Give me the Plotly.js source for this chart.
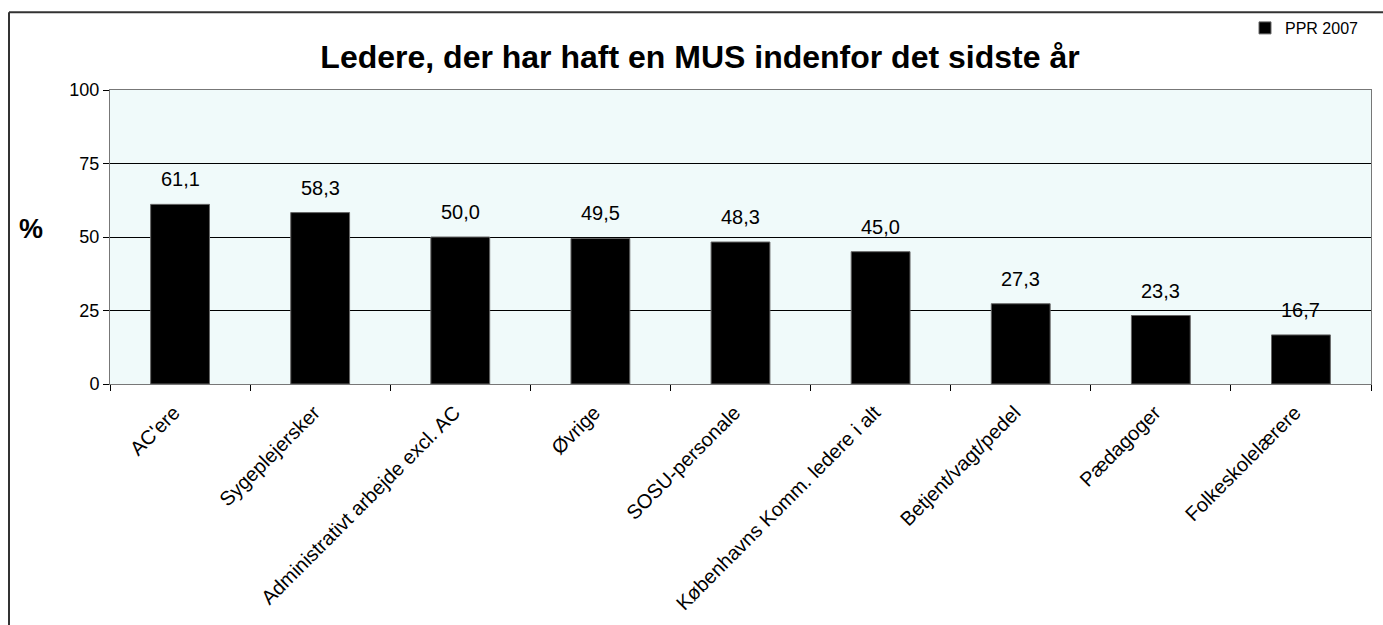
<!DOCTYPE html>
<html><head><meta charset="utf-8">
<script src="https://cdn.plot.ly/plotly-3.0.1.min.js"></script>
<style>html,body{margin:0;padding:0;background:#fff}#chart{width:1383px;height:625px}</style>
</head><body><div id="chart"></div>
<script>
const categories = ["AC'ere","Sygeplejersker","Administrativt arbejde excl. AC","Øvrige","SOSU-personale","Københavns Komm. ledere i alt","Betjent/vagt/pedel","Pædagoger","Folkeskolelærere"];
const values = [61.1, 58.3, 50.0, 49.5, 48.3, 45.0, 27.3, 23.3, 16.7];
const labels = ["61,1","58,3","50,0","49,5","48,3","45,0","27,3","23,3","16,7"];
const seriesName = "PPR 2007";
const yTicks = [0, 25, 50, 75, 100];

const FONT = "Liberation Sans, Arial, sans-serif";
const ML = 110, MR = 12, MT = 89, MB = 241, W = 1383, H = 625;
const PW = W - ML - MR, PH = H - MT - MB;
const px = x => (x - ML) / PW;
const py = y => (H - MB - y) / PH;

const trace = {
  type: 'bar', x: categories, y: values, name: seriesName,
  marker: {color: '#000000', line: {color: '#666666', width: 1}},
  hoverinfo: 'x+y'
};

const annotations = categories.map((c, i) => ({
  x: c, y: values[i], xref: 'x', yref: 'y', text: labels[i], showarrow: false,
  yanchor: 'middle', yshift: 25, font: {family: FONT, size: 20, color: '#000'}
}));
annotations.push({
  xref: 'paper', yref: 'paper', x: px(31), y: py(228), text: '<b>%</b>',
  showarrow: false, xanchor: 'center', yanchor: 'middle',
  font: {family: FONT, size: 27, color: '#000'}
});

const layout = {
  width: W, height: H,
  margin: {l: ML, r: MR, t: MT, b: MB, pad: 0},
  paper_bgcolor: '#ffffff', plot_bgcolor: '#f0fafa',
  font: {family: FONT, color: '#000'},
  title: {text: '<b>Ledere, der har haft en MUS indenfor det sidste år</b>',
          x: 700 / W, xref: 'container', xanchor: 'center',
          y: 1 - 57 / H, yref: 'container', yanchor: 'middle',
          font: {family: FONT, size: 32, color: '#000'}},
  bargap: 0.58,
  showlegend: true,
  legend: {x: px(1245), y: py(28), xanchor: 'left', yanchor: 'middle',
           font: {family: FONT, size: 16, color: '#000'}, bgcolor: 'rgba(0,0,0,0)',
           itemwidth: 30},
  xaxis: {type: 'category', tickson: 'boundaries', ticks: 'outside', ticklen: 6,
          tickcolor: '#000', tickangle: -45, showline: true, linecolor: '#777777',
          linewidth: 1, mirror: true, showgrid: false, zeroline: false,
          ticklabelstandoff: 8, ticklabelshift: -6,
          tickfont: {family: FONT, size: 20, color: '#000'}},
  yaxis: {range: [0, 100], tickvals: yTicks, ticktext: yTicks.map(String),
          ticks: 'outside', ticklen: 6, tickcolor: '#000',
          showline: true, linecolor: '#777777', linewidth: 1, mirror: true,
          showgrid: true, gridcolor: '#000000', gridwidth: 1, zeroline: false,
          tickfont: {family: FONT, size: 18, color: '#000'}},
  annotations: annotations,
  shapes: [
    {type: 'line', xref: 'paper', yref: 'paper', x0: px(9), x1: px(9), y0: py(11), y1: py(640),
     line: {color: '#333333', width: 2}},
    {type: 'line', xref: 'paper', yref: 'paper', x0: px(9), x1: px(1400), y0: py(11), y1: py(11),
     line: {color: '#333333', width: 2}}
  ]
};

Plotly.newPlot('chart', [trace], layout, {displayModeBar: false, staticPlot: true});
</script></body></html>
